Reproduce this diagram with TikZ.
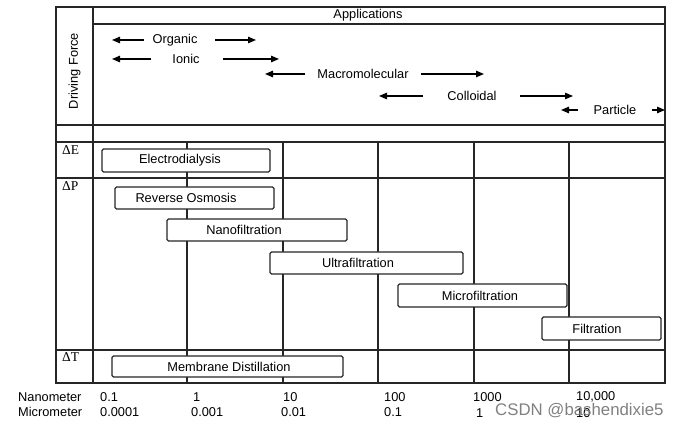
\documentclass[tikz,border=0pt]{standalone}
\usepackage{fontspec}
\setmainfont{Liberation Sans}
\newfontfamily\dserif{Liberation Serif}
\usetikzlibrary{arrows.meta}
\begin{document}
\begin{tikzpicture}[x=1pt,y=-1pt,
  grid/.style={draw=black!85,line width=1.1pt},
  box/.style={draw=black!85,line width=1.1pt,fill=white,rounded corners=1.5pt,inner sep=0pt},
  lbl/.style={inner sep=0pt,font=\fontsize{12.8}{14}\selectfont},
  dlt/.style={inner sep=0pt,anchor=north west,font=\dserif\fontsize{13.5}{15}\selectfont},
  arr/.style={draw=black,line width=1.3pt,-{Triangle[length=8pt,width=6.5pt]}},
  axl/.style={inner sep=0pt,anchor=west,font=\fontsize{12.8}{14}\selectfont}]
\useasboundingbox (0,0) rectangle (680,427);
% frame and grid
\draw[grid] (56,7) rectangle (665,383);
\draw[grid] (93,7) -- (93,383);
\draw[grid] (93,24) -- (665,24);
\foreach \y in {125,142,178,350} \draw[grid] (56,\y) -- (665,\y);
\foreach \x in {187,283,378,474,569} \draw[grid] (\x,142) -- (\x,383);
% header texts
\node[lbl] (app) at (368,15.5) {Applications};
\node[lbl,rotate=90] (df) at (74.5,71) {Driving Force};
% application arrows
\node[lbl] (org) at (175,40) {Organic};
\coordinate (orgL) at (112,40); \coordinate (orgLt) at (144,40);
\coordinate (orgR) at (256,40); \coordinate (orgRt) at (215,40);
\draw[arr] (orgLt) -- (orgL); \draw[arr] (orgRt) -- (orgR);
\node[lbl] (ion) at (186,58.5) {Ionic};
\coordinate (ionL) at (112,59); \coordinate (ionLt) at (151,59);
\coordinate (ionR) at (279,59); \coordinate (ionRt) at (223,59);
\draw[arr] (ionLt) -- (ionL); \draw[arr] (ionRt) -- (ionR);
\node[lbl] (mac) at (363,74) {Macromolecular};
\coordinate (macL) at (265,74); \coordinate (macLt) at (305,74);
\coordinate (macR) at (484,74); \coordinate (macRt) at (421,74);
\draw[arr] (macLt) -- (macL); \draw[arr] (macRt) -- (macR);
\node[lbl] (col) at (472,95.5) {Colloidal};
\coordinate (colL) at (379,96); \coordinate (colLt) at (423,96);
\coordinate (colR) at (573,96); \coordinate (colRt) at (520,96);
\draw[arr] (colLt) -- (colL); \draw[arr] (colRt) -- (colR);
\node[lbl] (par) at (615,110) {Particle};
\coordinate (parL) at (561,110); \coordinate (parLt) at (578,110);
\coordinate (parR) at (665,110); \coordinate (parRt) at (652,110);
\draw[arr] (parLt) -- (parL); \draw[arr] (parRt) -- (parR);
% driving force labels
\node[dlt] (dE) at (62,145.5) {ΔE};
\node[dlt] (dP) at (62,181.5) {ΔP};
\node[dlt] (dT) at (62,352.5) {ΔT};
% process boxes
\node[box,minimum width=168pt,minimum height=23pt] (ed) at (186,160.5) {};
\node[lbl] at (180,160.5) {Electrodialysis};
\node[box,minimum width=159pt,minimum height=22pt] (ro) at (194.5,198) {};
\node[lbl] at (186,198) {Reverse Osmosis};
\node[box,minimum width=180pt,minimum height=22pt] (nf) at (257,230) {};
\node[lbl] at (244,230) {Nanofiltration};
\node[box,minimum width=193pt,minimum height=22pt] (uf) at (366.5,263) {};
\node[lbl] at (358,263) {Ultrafiltration};
\node[box,minimum width=169pt,minimum height=23pt] (mf) at (482.5,295.5) {};
\node[lbl] at (480,295.5) {Microfiltration};
\node[box,minimum width=119pt,minimum height=23pt] (fi) at (601.5,328.5) {};
\node[lbl] at (597,328.5) {Filtration};
\node[box,minimum width=231pt,minimum height=21pt] (md) at (227.5,366.5) {};
\node[lbl] at (229,366.5) {Membrane Distillation};
% axis labels
\node[axl] (nm) at (18,397) {Nanometer};
\node[axl] (um) at (18,412) {Micrometer};
\node[axl] at (100,397) {0.1};
\node[axl] at (100,412) {0.0001};
\node[axl] at (193,397) {1};
\node[axl] at (191,412) {0.001};
\node[axl] at (283,397) {10};
\node[axl] at (281,412) {0.01};
\node[axl] at (384,397) {100};
\node[axl] at (384,412) {0.1};
\node[axl] at (473,397) {1000};
\node[axl] at (476,413) {1};
\node[axl] at (576,397) {10,000};
\node[axl] at (576,413) {10};
% watermark
\node[inner sep=0pt,anchor=west,text=black!50,font=\fontsize{16.8}{18}\selectfont] (wm) at (495,411) {CSDN @bashendixie5};
\end{tikzpicture}
\end{document}
